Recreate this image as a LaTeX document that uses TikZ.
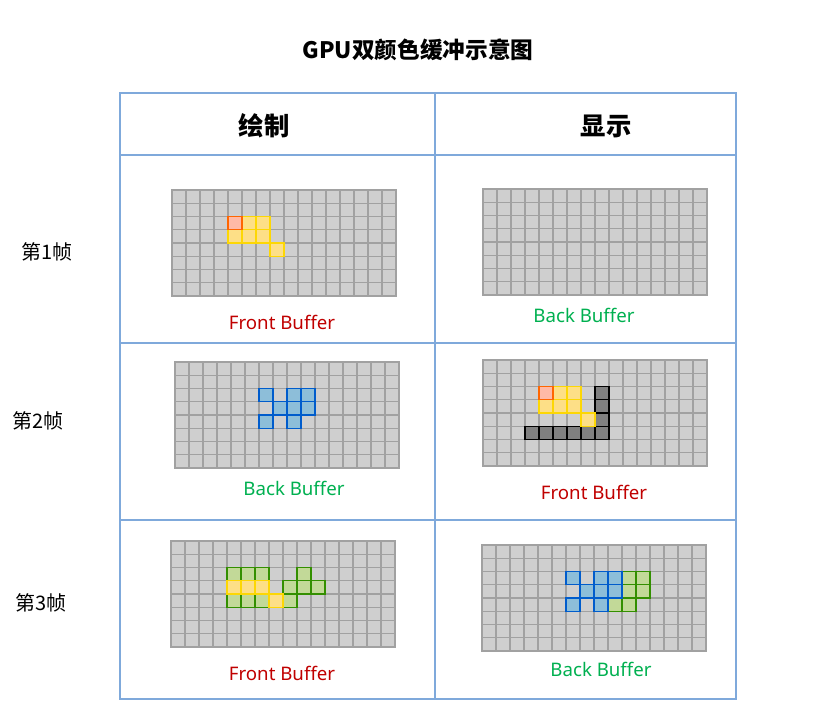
\documentclass[tikz,border=0pt]{standalone}
\usepackage{fontspec}
\setmainfont{Noto Sans}
\newfontfamily\cjk{Noto Sans CJK SC}
\usetikzlibrary{positioning}

\definecolor{tblline}{HTML}{7FA9DB}
\definecolor{frontred}{HTML}{C00000}
\definecolor{backgreen}{HTML}{00B050}

\tikzset{
  cell/.style={draw=black!37,fill=black!19,line width=0.9pt},
  org/.style={draw=orange!80!red,fill=orange!45!red!35!white,line width=1pt},
  ylw/.style={draw=yellow!75!orange,fill=yellow!50!orange!45!white,line width=1pt},
  blu/.style={draw=blue!55!cyan!80!black,fill=blue!35!cyan!35!white!85!black,line width=1pt},
  grn/.style={draw=green!45!black!80!yellow,fill=green!35!yellow!30!white!85!black,line width=1pt},
  drk/.style={draw=black,fill=black!50,line width=1pt},
  frontlbl/.style={font=\fontsize{14}{16}\selectfont,text=frontred},
  backlbl/.style={font=\fontsize{14}{16}\selectfont,text=backgreen},
  rowlbl/.style={font=\cjk\fontsize{15}{17}\selectfont},
  headlbl/.style={font=\cjk\bfseries\fontsize{19}{22}\selectfont},
}

% grid of 16 x 8 cells, top left corner at (#1,#2)
\newcommand{\bufgrid}[2]{%
  \foreach \c in {0,...,15}
    \foreach \r in {0,...,7}
      \draw[cell] ({#1+\c*14},{#2+\r*13.25}) rectangle ++(14,13.25);}
% coloured cells: style, list of col/row
\newcommand{\paint}[4]{%
  \foreach \c/\r in {#4}
    \draw[#3] ({#1+\c*14},{#2+\r*13.25}) rectangle ++(14,13.25);}

\begin{document}
\begin{tikzpicture}[x=0.75pt,y=-0.75pt]
  \useasboundingbox (0,0) rectangle (817,714);

  % title
  \node[font=\cjk\bfseries\fontsize{17}{20}\selectfont] (title) at (418,50) {GPU双颜色缓冲示意图};

  % table
  \draw[tblline,line width=0.8pt] (120,93) rectangle (736,699);
  \draw[tblline,line width=0.8pt] (435,93) -- (435,699);
  \foreach \y in {155,343,520}
    \draw[tblline,line width=0.8pt] (120,\y) -- (736,\y);

  \node[headlbl] (draw) at (264,126) {绘制};
  \node[headlbl] (show) at (606,126) {显示};

  \node[rowlbl] (frame1) at (47,252) {第1帧};
  \node[rowlbl] (frame2) at (38,421) {第2帧};
  \node[rowlbl] (frame3) at (41,603) {第3帧};

  % frame 1
  \bufgrid{172}{190}
  \paint{172}{190}{ylw}{5/2,6/2,4/3,5/3,6/3,7/4}
  \paint{172}{190}{org}{4/2}
  \node[frontlbl] (f1front) at (282,322) {Front Buffer};

  \bufgrid{483}{189}
  \node[backlbl] (f1back) at (584,315) {Back Buffer};

  % frame 2
  \bufgrid{175}{362}
  \paint{175}{362}{blu}{6/2,8/2,9/2,7/3,8/3,9/3,6/4,8/4}
  \node[backlbl] (f2back) at (294,488) {Back Buffer};

  \bufgrid{483}{360}
  \paint{483}{360}{drk}{8/2,8/3,8/4,3/5,4/5,5/5,6/5,7/5,8/5}
  \paint{483}{360}{ylw}{5/2,6/2,4/3,5/3,6/3,7/4}
  \paint{483}{360}{org}{4/2}
  \node[frontlbl] (f2front) at (594,492) {Front Buffer};

  % frame 3
  \bufgrid{171}{541}
  \paint{171}{541}{grn}{4/2,5/2,6/2,9/2,8/3,9/3,10/3,4/4,5/4,6/4,8/4}
  \paint{171}{541}{ylw}{4/3,5/3,6/3,7/4}
  \node[frontlbl] (f3front) at (282,673) {Front Buffer};

  \bufgrid{482}{545}
  \paint{482}{545}{grn}{10/2,11/2,10/3,11/3,9/4,10/4}
  \paint{482}{545}{blu}{6/2,8/2,9/2,7/3,8/3,9/3,6/4,8/4}
  \node[backlbl] (f3back) at (601,669) {Back Buffer};
\end{tikzpicture}
\end{document}
